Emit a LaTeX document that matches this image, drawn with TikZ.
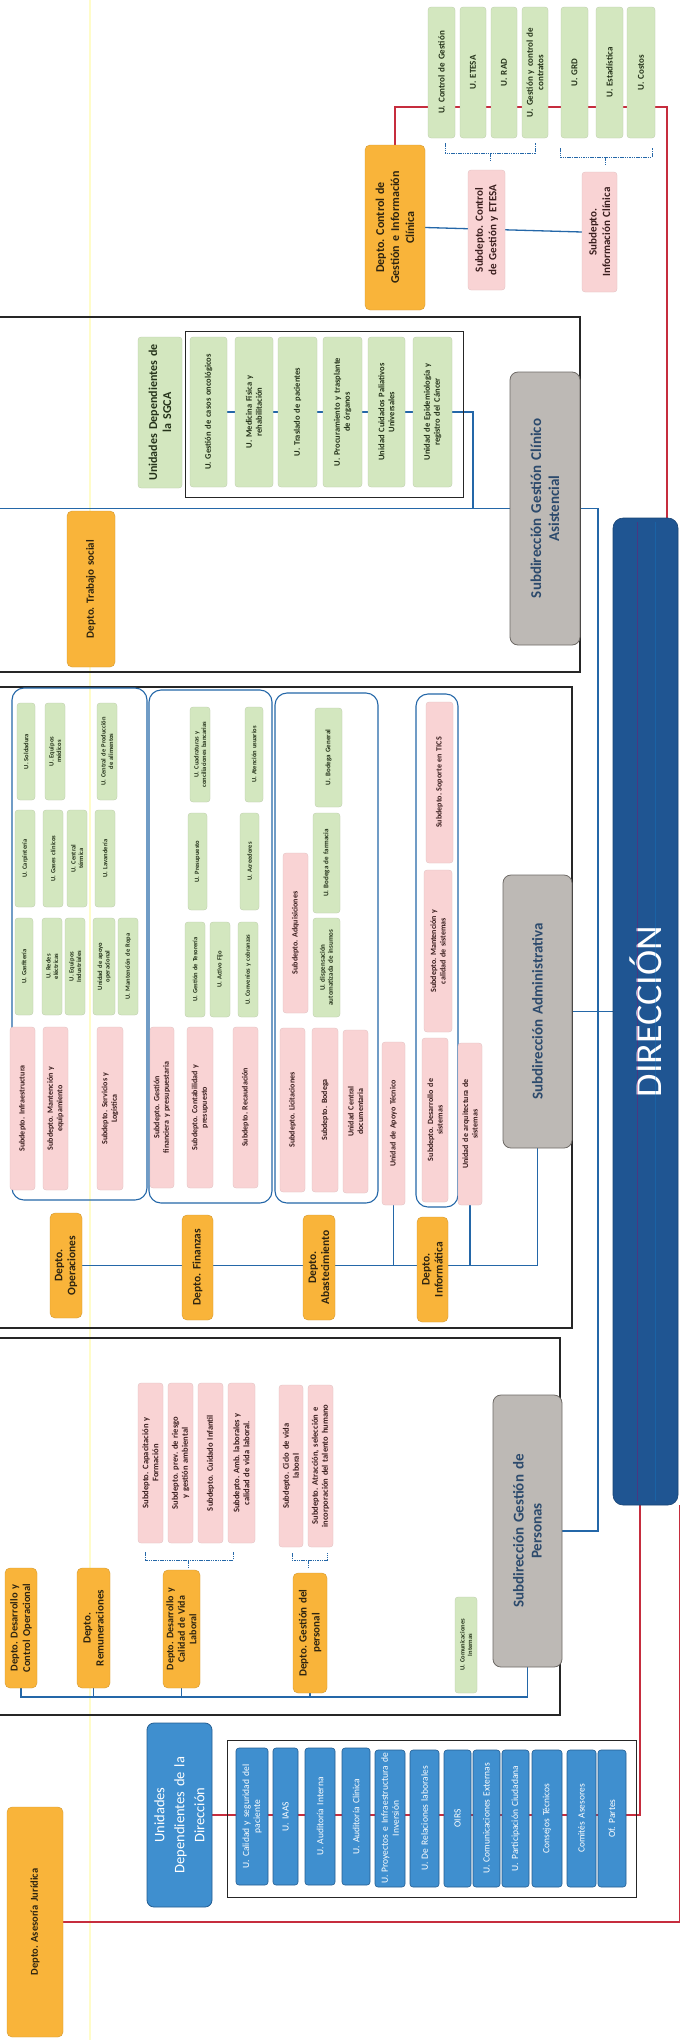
\documentclass[tikz,border=0pt]{standalone}
\usepackage{fontspec}
\setmainfont{Carlito}
\frenchspacing
\usetikzlibrary{calc}
\pgfdeclarelayer{bg}
\pgfsetlayers{bg,main}
\definecolor{cgreen}{HTML}{D3E7BF}
\definecolor{cpink}{HTML}{F9D3D4}
\definecolor{corange}{HTML}{F9B43A}
\definecolor{cgray}{HTML}{BDB9B5}
\definecolor{cgrayd}{HTML}{6E6A66}
\definecolor{cblue}{HTML}{3F8FCF}
\definecolor{cblued}{HTML}{235E93}
\definecolor{cdir}{HTML}{1F5592}
\definecolor{cred}{HTML}{C62D3E}
\definecolor{cbl}{HTML}{2467A8}
\definecolor{csub}{HTML}{2C4A6C}
\definecolor{ctg}{HTML}{25331A}
\definecolor{ctp}{HTML}{3A1E1E}
\definecolor{cto}{HTML}{2E2410}
\tikzset{
  bfs/.style 2 args={font=\bfseries\fontsize{#1}{#2}\selectfont},
  rfs/.style 2 args={font=\fontsize{#1}{#2}\selectfont},
  base/.style={rectangle, rounded corners=3pt, inner xsep=1pt, inner ysep=1pt, align=center},
  gbox/.style={base, fill=cgreen, draw=cgreen!88!black, line width=0.3pt, text=ctg},
  pbox/.style={base, fill=cpink, draw=cpink!90!black, line width=0.3pt, text=ctp},
  obox/.style={base, fill=corange, draw=corange!85!black, line width=0.4pt, rounded corners=5pt, text=cto},
  sbox/.style={base, fill=cgray, draw=cgrayd, line width=0.8pt, rounded corners=8pt, text=csub, bfs={15}{18}},
  ubox/.style={base, fill=cblue, draw=cblued, line width=0.6pt, text=white, rfs={9.5}{11}},
  grp/.style={draw=cbl, line width=1.1pt, rounded corners=12pt},
  frame/.style={draw=black!85, line width=1.3pt},
  bline/.style={draw=cbl, line width=1.3pt},
  rline/.style={draw=cred, line width=1.2pt},
  brk/.style={draw=cbl, line width=0.8pt, dash pattern=on 1.5pt off 0.8pt},
}
\newcommand\obx[7]{%
  \pgfmathsetmacro\obxcx{(#3+#5)/2}%
  \pgfmathsetmacro\obxcy{(#4+#6)/2}%
  \pgfmathsetmacro\obxw{#6-#4}%
  \pgfmathsetmacro\obxh{#5-#3}%
  \pgfmathsetmacro\obxt{#6-#4-4}%
  \node[#1, rotate=90, minimum width=\obxw pt, minimum height=\obxh pt, text width=\obxt pt] (#2) at (\obxcx,\obxcy) {#7};%
}
\newcommand\obrk[5]{%
  \draw[brk] (#1,#3) -- (#1,#4) -- (#2,#4) -- (#2,#3);
  \draw[brk] (#5,#4) -- (#5,{#4+7});
}
\begin{document}
\begin{tikzpicture}[x=1pt,y=-1pt]
\useasboundingbox (0,0) rectangle (681,2040);
\clip (0,0) rectangle (681,2040);
\begin{pgfonlayer}{bg}
\fill[white] (-10,-10) rectangle (700,2050);
\draw[yellow!35, line width=1.5pt, opacity=0.6] (90,0) -- (90,2040);
\end{pgfonlayer}

% ---------- frames ----------
\draw[frame] (-5,317) rectangle (580,672);
\draw[frame, line width=1pt] (185,331) rectangle (463,497);
\draw[frame] (-5,687) rectangle (572,1328);
\draw[frame] (-5,1338) rectangle (560,1715);
\draw[frame, line width=1pt] (227,1740) rectangle (636,1897);

% groups in administrative
\draw[grp] (12,688) rectangle (147,1200);
\draw[grp] (149,690) rectangle (272,1203);
\draw[grp] (275,693) rectangle (378,1203);
\draw[grp] (416,694) rectangle (458,1207);

% ---------- Control de Gestion ----------
\obx{gbox,bfs={9}{10.5}}{gcg}{428}{7}{455}{138}{U. Control de Gestión}
\obx{gbox,bfs={9}{10.5}}{getesa}{460}{7}{486}{138}{U. ETESA}
\obx{gbox,bfs={9}{10.5}}{grad}{491}{7}{517}{138}{U. RAD}
\obx{gbox,bfs={9}{10.5}}{gcont}{522}{7}{548}{138}{U. Gestión y control de\\contratos}
\obx{gbox,bfs={9}{10.5}}{ggrd}{561}{7}{588}{138}{U. GRD}
\obx{gbox,bfs={9}{10.5}}{gest}{596}{7}{623}{138}{U. Estadística}
\obx{gbox,bfs={9}{10.5}}{gcos}{627}{7}{655}{138}{U. Costos}
\obx{obox,bfs={12}{15}}{dcg}{365}{145}{425}{310}{Depto. Control de\\Gestión e Información\\Clínica}
\obx{pbox,bfs={11}{13.5}}{scg}{468}{170}{505}{290}{Subdepto. Control\\de Gestión y ETESA}
\obx{pbox,bfs={11}{13.5}}{sinfo}{582}{172}{617}{292}{Subdepto.\\Información Clínica}
\obrk{445}{535}{143}{153}{490}
\obrk{560}{652}{148}{157}{605}

% ---------- Clinico ----------
\obx{gbox,bfs={12}{14}}{sgca}{138}{337}{182}{488}{Unidades Dependientes de\\la SGCA}
\obx{gbox,bfs={8.5}{10}}{c1}{190}{337}{227}{487}{U. Gestión de casos oncológicos}
\obx{gbox,bfs={8.5}{10}}{c2}{235}{337}{273}{487}{U. Medicina Física y\\rehabilitación}
\obx{gbox,bfs={8.5}{10}}{c3}{278}{337}{317}{487}{U. Traslado de pacientes}
\obx{gbox,bfs={8.5}{10}}{c4}{323}{337}{362}{487}{U. Procuramiento y trasplante\\de órganos}
\obx{gbox,bfs={8.5}{10}}{c5}{368}{337}{405}{487}{Unidad Cuidados Paliativos\\Universales}
\obx{gbox,bfs={8.5}{10}}{c6}{413}{337}{452}{487}{Unidad de Epidemiología y\\registro del Cáncer}
\obx{obox,bfs={11}{13}}{dts}{67}{511}{115}{667}{Depto. Trabajo social}
\obx{sbox}{sgc}{510}{372}{580}{645}{Subdirección Gestión Clínico\\Asistencial}

% ---------- Administrativa ----------
\obx{gbox,bfs={6.5}{7.5}}{o1}{17}{703}{35}{800}{U. Soldadura}
\obx{gbox,bfs={6.5}{7.5}}{o2}{45}{703}{65}{800}{U. Equipos\\médicos}
\obx{gbox,bfs={6.5}{7.5}}{o3}{97}{703}{117}{800}{U. Central de Producción\\de alimentos}
\obx{gbox,bfs={6.5}{7.5}}{o4}{15}{810}{35}{907}{U. Carpintería}
\obx{gbox,bfs={6.5}{7.5}}{o5}{43}{810}{63}{907}{U. Gases clínicos}
\obx{gbox,bfs={6.5}{7.5}}{o6}{67}{810}{87}{907}{U. Central\\térmica}
\obx{gbox,bfs={6.5}{7.5}}{o7}{95}{810}{115}{907}{U. Lavandería}
\obx{gbox,bfs={6.5}{7.5}}{o8}{15}{918}{33}{1015}{U. Gasfitería}
\obx{gbox,bfs={6.5}{7.5}}{o9}{42}{918}{62}{1015}{U. Redes\\eléctricas}
\obx{gbox,bfs={6.5}{7.5}}{o10}{65}{918}{85}{1015}{U. Equipos\\Industriales}
\obx{gbox,bfs={6.5}{7.5}}{o11}{93}{918}{115}{1015}{Unidad de apoyo\\operacional}
\obx{gbox,bfs={6.5}{7.5}}{o12}{118}{918}{138}{1015}{U. Mantención de Ropa}
\obx{pbox,bfs={8}{9.5}}{p1}{10}{1027}{35}{1190}{Subdepto. Infraestructura}
\obx{pbox,bfs={8}{9.5}}{p2}{43}{1027}{68}{1190}{Subdepto. Mantención y\\equipamiento}
\obx{pbox,bfs={8}{9.5}}{p3}{97}{1027}{123}{1190}{Subdepto. Servicios y\\Logística}

\obx{gbox,bfs={6.5}{7.5}}{f1}{190}{707}{210}{802}{U. Cuadraturas y\\conciliaciones bancarias}
\obx{gbox,bfs={6.5}{7.5}}{f2}{245}{707}{263}{802}{U. Atención usuarios}
\obx{gbox,bfs={6.5}{7.5}}{f3}{188}{813}{207}{910}{U. Presupuesto}
\obx{gbox,bfs={6.5}{7.5}}{f4}{240}{813}{259}{910}{U. Acreedores}
\obx{gbox,bfs={6.5}{7.5}}{f5}{185}{922}{205}{1017}{U. Gestión de Tesorería}
\obx{gbox,bfs={6.5}{7.5}}{f6}{210}{922}{230}{1017}{U. Activo Fijo}
\obx{gbox,bfs={6.5}{7.5}}{f7}{238}{922}{258}{1017}{U. Convenios y cobranzas}
\obx{pbox,bfs={8}{9.5}}{p4}{150}{1027}{174}{1188}{Subdepto. Gestión\\financiera y presupuestaria}
\obx{pbox,bfs={8}{9.5}}{p5}{187}{1027}{213}{1188}{Subdepto. Contabilidad y\\presupuesto}
\obx{pbox,bfs={8}{9.5}}{p6}{233}{1027}{258}{1188}{Subdepto. Recaudación}

\obx{gbox,bfs={7}{8}}{a1}{315}{708}{342}{807}{U. Bodega General}
\obx{gbox,bfs={7}{8}}{a2}{313}{813}{340}{913}{U. Bodega de farmacia}
\obx{gbox,bfs={7}{8}}{a3}{313}{918}{340}{1017}{U. dispensación\\automatizada de insumos}
\obx{pbox,bfs={8}{9.5}}{p7}{283}{853}{308}{1013}{Subdepto. Adquisiciones}
\obx{pbox,bfs={8}{9.5}}{p8}{280}{1028}{305}{1192}{Subdepto. Licitaciones}
\obx{pbox,bfs={8}{9.5}}{p9}{312}{1028}{338}{1192}{Subdepto. Bodega}
\obx{pbox,bfs={8}{9.5}}{p10}{343}{1030}{368}{1193}{Unidad Central\\documentaria}

\obx{pbox,bfs={8}{9.5}}{p11}{426}{702}{453}{863}{Subdepto. Soporte en TICS}
\obx{pbox,bfs={8}{9.5}}{p12}{424}{870}{452}{1032}{Subdepto. Mantención y\\calidad de sistemas}
\obx{pbox,bfs={8}{9.5}}{p13}{422}{1038}{448}{1202}{Subdepto. Desarrollo de\\sistemas}
\obx{pbox,bfs={8}{9.5}}{p14}{382}{1042}{405}{1205}{Unidad de Apoyo Técnico}
\obx{pbox,bfs={8}{9.5}}{p15}{458}{1043}{482}{1205}{Unidad de arquitectura de\\sistemas}

\obx{obox,bfs={11.5}{13}}{dop}{50}{1213}{82}{1318}{Depto.\\Operaciones}
\obx{obox,bfs={11.5}{13}}{dfin}{182}{1215}{213}{1320}{Depto. Finanzas}
\obx{obox,bfs={11.5}{13}}{dab}{303}{1215}{335}{1320}{Depto.\\Abastecimiento}
\obx{obox,bfs={11.5}{13}}{dinf}{417}{1217}{448}{1322}{Depto.\\Informática}
\obx{sbox}{sad}{503}{875}{572}{1148}{Subdirección Administrativa}

% ---------- Personas ----------
\obx{obox,bfs={10.5}{12.5}}{dpc}{5}{1568}{37}{1688}{Depto. Desarrollo y\\Control Operacional}
\obx{obox,bfs={11}{13}}{drem}{77}{1568}{110}{1688}{Depto.\\Remuneraciones}
\obx{obox,bfs={10}{11.5}}{dcvl}{163}{1570}{200}{1688}{Depto. Desarrollo y\\Calidad de Vida\\Laboral}
\obx{obox,bfs={11}{13}}{dgp}{293}{1573}{327}{1693}{Depto. Gestión del\\personal}
\obx{pbox,bfs={8.5}{10}}{h1}{138}{1383}{163}{1543}{Subdepto. Capacitación y\\Formación}
\obx{pbox,bfs={8.5}{10}}{h2}{168}{1383}{193}{1543}{Subdepto. prev. de riesgo\\y gestión ambiental}
\obx{pbox,bfs={8.5}{10}}{h3}{198}{1383}{223}{1543}{Subdepto. Cuidado Infantil}
\obx{pbox,bfs={8.5}{10}}{h4}{228}{1383}{255}{1543}{Subdepto. Amb. laborales y\\calidad de vida laboral.}
\obx{pbox,bfs={8.5}{10}}{h5}{279}{1385}{303}{1547}{Subdepto. Ciclo de vida\\laboral}
\obx{pbox,bfs={8.5}{10}}{h6}{308}{1385}{333}{1547}{Subdepto. Atracción, selección e\\incorporación del talento humano}
\obx{gbox,bfs={6.5}{7.5}}{ucom}{455}{1597}{477}{1693}{U. Comunicaciones\\Internas}
\obx{sbox}{sgp}{493}{1395}{562}{1667}{Subdirección Gestión de\\Personas}
\obrk{145}{233}{1552}{1560}{188}
\obrk{292}{327}{1553}{1560}{308}

% ---------- Direccion ----------
\obx{base,fill=cdir,draw=cdir!80!black,line width=0.6pt,rounded corners=10pt,text=white,rfs={38}{44}}{dir}{613}{518}{678}{1505}{DIRECCIÓN}
\draw[blue!40!red, opacity=0.35, line width=0.6pt] (637,522) -- (637,1501);
\draw[cyan!60!blue, opacity=0.35, line width=0.6pt] (655,522) -- (655,1501);

\obx{base,fill=cblue,draw=cblued,line width=0.8pt,rounded corners=7pt,text=white,rfs={14.5}{20}}{udd}{147}{1723}{212}{1907}{Unidades\\Dependientes de la\\Dirección}
\obx{ubox}{u1}{236}{1748}{268}{1885}{U. Calidad y seguridad del\\paciente}
\obx{ubox}{u2}{273}{1748}{298}{1885}{U. IAAS}
\obx{ubox}{u3}{305}{1748}{335}{1885}{U. Auditoría Interna}
\obx{ubox}{u4}{342}{1748}{370}{1885}{U. Auditoría Clínica}
\obx{ubox}{u5}{375}{1750}{405}{1887}{U. Proyectos e Infraestructura de\\Inversión}
\obx{ubox}{u6}{410}{1750}{439}{1887}{U. De Relaciones laborales}
\obx{ubox}{u7}{444}{1750}{471}{1887}{OIRS}
\obx{ubox}{u8}{473}{1750}{500}{1887}{U. Comunicaciones Externas}
\obx{ubox}{u9}{502}{1750}{529}{1887}{U. Participación Ciudadana}
\obx{ubox}{u10}{532}{1750}{562}{1887}{Consejos Técnicos}
\obx{ubox}{u11}{567}{1750}{596}{1887}{Comités Asesores}
\obx{ubox}{u12}{598}{1750}{626}{1887}{Of. Partes}
\obx{obox,bfs={10.5}{12}}{dasj}{7}{1807}{63}{2037}{Depto. Asesoría Jurídica}

% ---------- connectors ----------
\coordinate (rT) at (667,107);
\coordinate (rB) at (640,1815);
\coordinate (rR) at (679.5,1922);
\coordinate (cj) at (473,413);
\coordinate (bus) at (598,508.5);
\coordinate (lft) at (-5,508.5);
\coordinate (pbus) at (0,1697);
\begin{pgfonlayer}{bg}
\draw[rline] (dcg.east) |- (rT) -- (rT |- dir.east);
\draw[rline] (rB |- dir.west) -- (rB) -- (rB -| udd.south);
\draw[rline] (rR |- dir.west) -- (rR) -- (rR -| dasj.south);
\draw[bline] (dcg.south) -- (sinfo.north);
\draw[bline] (lft) -- (sgc.north);
\draw[bline] (c1.center) -- (c1.center -| cj) -- (cj |- sgc.north);
\draw[bline] (sgc.south) -- (bus) -- (bus |- sgp.south) -- (sgp.south);
\draw[bline] (sad.south) -- (dir.north);
\draw[bline] (dop.south) -- (dop.south -| sad.west) -- (sad.west);
\draw[bline] (p14.west) -- (p14.west |- dop.south);
\draw[bline] (p15.west) -- (p15.west |- dop.south);
\draw[bline] (sgp.west) -- (sgp.west |- pbus) -- (dpc.west |- pbus) -- (dpc.west);
\draw[bline] (drem.west) -- (drem.west |- pbus);
\draw[bline] (dcvl.west) -- (dcvl.west |- pbus);
\draw[bline] (dgp.west) -- (dgp.west |- pbus);
\end{pgfonlayer}
\end{tikzpicture}
\end{document}
